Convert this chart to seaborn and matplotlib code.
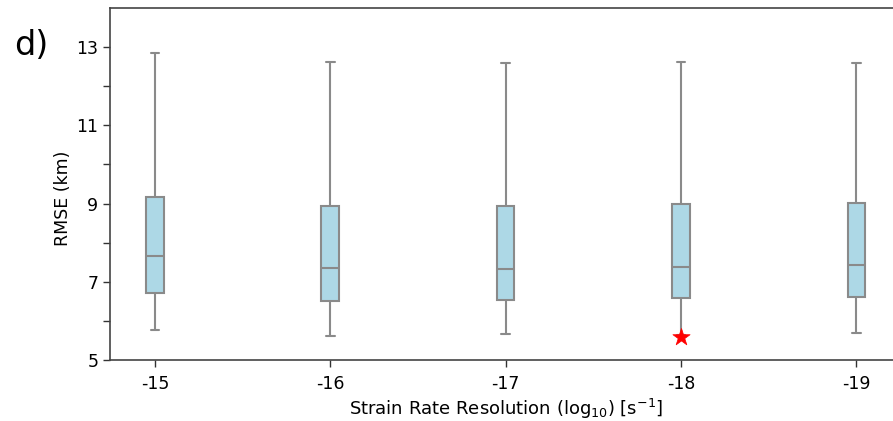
import matplotlib
matplotlib.use("Agg")
import matplotlib.pyplot as plt
import pandas as pd
import seaborn as sns

# strain rate resolution categories (log10 s^-1)
categories = ["-15", "-16", "-17", "-18", "-19"]

# box summary: low whisker, q1, median, q3, high whisker
whisker_low = [5.77, 5.62, 5.66, 5.63, 5.69]
q1 = [6.71, 6.51, 6.54, 6.59, 6.62]
median = [7.65, 7.35, 7.33, 7.38, 7.44]
q3 = [9.17, 8.95, 8.95, 8.99, 9.01]
whisker_high = [12.85, 12.62, 12.59, 12.62, 12.59]

# best setting (red star)
best_cat = "-18"
best_rmse = 5.60

y_major = [5, 7, 9, 11, 13]
y_minor = [6, 8, 10, 12]

# five values per group -> quartiles land exactly on the read values
rows = []
for i, c in enumerate(categories):
    for v in (whisker_low[i], q1[i], median[i], q3[i], whisker_high[i]):
        rows.append({"res": c, "rmse": v})
data = pd.DataFrame(rows)

sns.set_style("ticks")
plt.rcParams["font.family"] = ["DejaVu Sans"]

fig = plt.figure(figsize=(8.93, 4.21), dpi=100)
ax = fig.add_axes([0.1232, 0.1449, 0.886, 0.836])

sns.boxplot(data=data, x="res", y="rmse", order=categories, ax=ax,
            width=0.1, whis=(0, 100), color="lightblue", saturation=1,
            linecolor="#8a8a8a", linewidth=1.5, showfliers=False)

# red star
sns.scatterplot(x=[categories.index(best_cat)], y=[best_rmse], ax=ax,
                marker="*", color="red", s=170, edgecolor="red", linewidth=0.5,
                zorder=5, legend=False)

ax.set_xlim(-0.256, 4.256)
ax.set_ylim(5, 14)
ax.set_yticks(y_major)
ax.set_yticks(y_minor, minor=True)
ax.tick_params(axis="both", which="both", length=5, width=1, labelsize=12.5,
               colors="#333333", labelcolor="black")
ax.tick_params(axis="x", pad=6)

for side in ["left", "bottom", "top"]:
    ax.spines[side].set_visible(True)
    ax.spines[side].set_color("#444444")
    ax.spines[side].set_linewidth(1.2)
ax.spines["right"].set_visible(False)

ax.set_xlabel(r"Strain Rate Resolution (log$_{10}$) [s$^{-1}$]", fontsize=13,
              color="black")
ax.xaxis.set_label_coords(0.5, -0.105, transform=ax.transAxes)
ax.xaxis.label.set_va("top")
ax.set_ylabel("RMSE (km)", fontsize=12.5, color="black")
ax.yaxis.set_label_coords(-0.048, 0.46)

fig.text(0.016, 0.893, "d)", fontsize=24, va="center", ha="left", color="black")

plt.savefig("out.png", dpi=100)
